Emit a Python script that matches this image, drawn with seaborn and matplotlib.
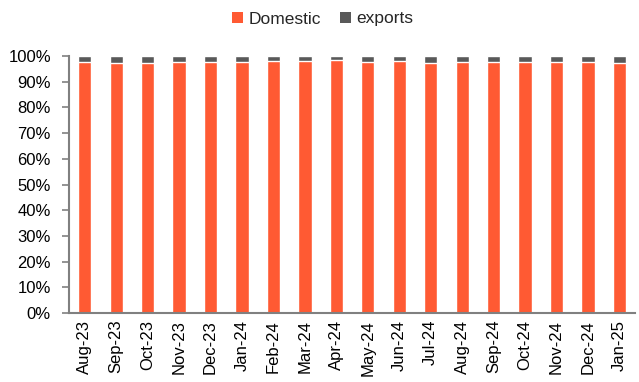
import matplotlib
matplotlib.use("Agg")
import matplotlib.pyplot as plt
import seaborn as sns
import numpy as np
import pandas as pd
from matplotlib.ticker import FuncFormatter, FixedLocator
from matplotlib.patches import Patch

months = ["Aug-23", "Sep-23", "Oct-23", "Nov-23", "Dec-23", "Jan-24", "Feb-24", "Mar-24",
          "Apr-24", "May-24", "Jun-24", "Jul-24", "Aug-24", "Sep-24", "Oct-24", "Nov-24",
          "Dec-24", "Jan-25"]
exports = [2.4, 2.8, 2.7, 2.1, 2.2, 2.2, 1.8, 1.8, 1.4, 2.1, 1.9, 2.6, 2.3, 2.3, 2.2, 2.1, 2.1, 2.6]
domestic = [100 - e for e in exports]

df = pd.DataFrame({"month": months, "Domestic": domestic, "exports": exports})
df["total"] = df["Domestic"] + df["exports"]

sns.set_theme(style="white")
plt.rcParams["font.family"] = ["Liberation Sans", "DejaVu Sans"]

fig = plt.figure(figsize=(6.39, 3.82), dpi=100)
ax = fig.add_axes([0.108, 0.181, 0.886, 0.672])

c_dom = "#FF5A33"
c_exp = "#595959"
sns.barplot(data=df, x="month", y="total", color=c_exp, width=0.42, saturation=1, ax=ax)
sns.barplot(data=df, x="month", y="Domestic", color=c_dom, width=0.42, saturation=1, ax=ax)

ax.set_ylim(0, 100)
ax.set_xlim(-0.5, len(months) - 0.5)
ax.set_yticks(np.arange(0, 101, 10))
ax.yaxis.set_major_formatter(FuncFormatter(lambda v, p: f"{v:.0f}%"))
ax.set_xlabel("")
ax.set_ylabel("")
ax.tick_params(axis="x", which="major", length=0, labelsize=12, rotation=90, pad=5)
ax.xaxis.set_minor_locator(FixedLocator(np.arange(-0.5, len(months), 1)))
ax.tick_params(axis="x", which="minor", length=5, color="#808080", width=1.2, direction="out")
ax.tick_params(axis="y", length=5, color="#808080", width=1.2, labelsize=12, direction="out",
               left=True, pad=8)
for lbl in ax.get_xticklabels() + ax.get_yticklabels():
    lbl.set_color("black")

for s in ["top", "right"]:
    ax.spines[s].set_visible(False)
for s in ["left", "bottom"]:
    ax.spines[s].set_color("#808080")
    ax.spines[s].set_linewidth(1.5)

handles = [Patch(facecolor=c_dom, edgecolor="none"), Patch(facecolor=c_exp, edgecolor="none")]
ax.legend(handles, ["Domestic", "exports"], loc="center",
          bbox_to_anchor=(0.505, 1 - 19 / 382), bbox_transform=fig.transFigure,
          ncol=2, frameon=False, fontsize=12.5, borderaxespad=0, borderpad=0,
          handlelength=0.65, handleheight=0.65, handletextpad=0.3, columnspacing=1.1)

fig.savefig("out.png", dpi=100)
